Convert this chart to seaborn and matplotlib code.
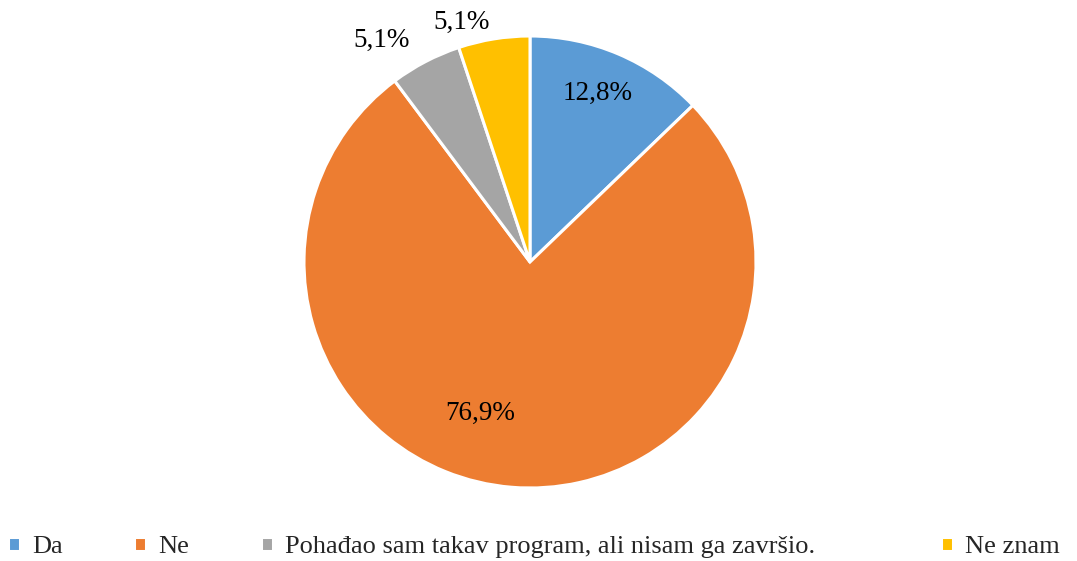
import matplotlib
matplotlib.use('Agg')
from matplotlib import pyplot as plt
import seaborn as sns

# data
categories = ['Da', 'Ne', 'Pohađao sam takav program, ali nisam ga završio.', 'Ne znam']
shares = [12.8, 76.9, 5.1, 5.1]
pct_labels = ['12,8%', '76,9%', '5,1%', '5,1%']
colors = sns.color_palette(['#5B9BD5', '#ED7D31', '#A5A5A5', '#FFC000'])

sns.set_theme(style='white')
plt.rcParams['font.family'] = ['Liberation Serif', 'DejaVu Serif']

W, H = 1077, 561
fig = plt.figure(figsize=(W / 100, H / 100), dpi=100)

# pie centre ~(530, 262) px from top, radius ~226 px
cx, cy, r = 530, H - 262, 226
ax = fig.add_axes([(cx - r) / W, (cy - r) / H, 2 * r / W, 2 * r / H])

wedges, _ = ax.pie(shares, colors=colors, startangle=90, counterclock=False,
                   wedgeprops=dict(edgecolor='white', linewidth=2.2))
ax.set_xlim(-1, 1)
ax.set_ylim(-1, 1)
ax.set_aspect('equal')
ax.axis('off')

# percentage labels, placed as in the reference (radius units)
label_pos = [(0.30, 0.748), (-0.221, -0.668), (-0.659, 0.982), (-0.305, 1.062)]
for (x, y), txt in zip(label_pos, pct_labels):
    ax.text(x, y, txt, ha='center', va='center', fontsize=19.5, color='black',
            clip_on=False)

# legend entries laid out on the same grid as the original
legend_x = [8, 134, 261, 941]
for wedge, name, lx in zip(wedges, categories, legend_x):
    fig.legend([wedge], [name], loc='center left',
               bbox_to_anchor=(lx / W, 14 / H), frameon=False,
               fontsize=19, handlelength=0.45, handleheight=0.45,
               handletextpad=0.45, borderpad=0, borderaxespad=0)

plt.savefig('out.png', dpi=100)
